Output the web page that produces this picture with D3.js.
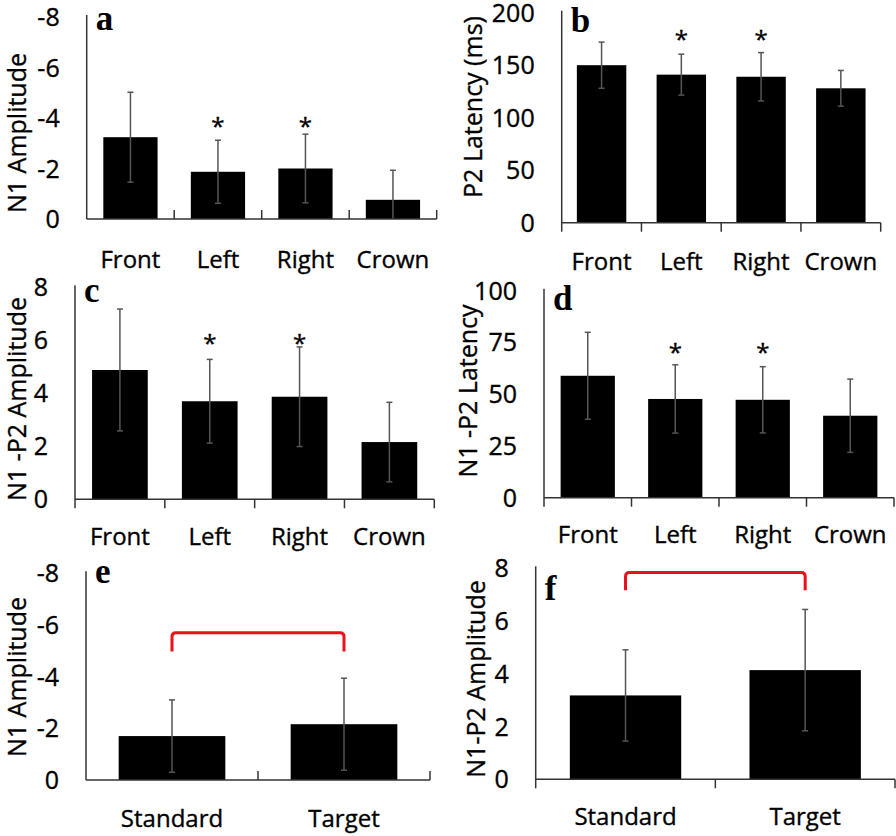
<!DOCTYPE html>
<html><head><meta charset="utf-8">
<script src="https://cdn.jsdelivr.net/npm/d3@7"></script>
<style>body{margin:0;background:#fff}svg{display:block}
text.s{stroke:#000;stroke-width:0.35px}</style>
</head><body>
<svg id="c" width="896" height="836"></svg>
<script>
// ---- data ----
const regions = ["Front", "Left", "Right", "Crown"];
const conditions = ["Standard", "Target"];

const n1AmpMean = [-3.24, -1.87, -2.0, -0.76];
const n1AmpSD   = [1.78, 1.25, 1.36, 1.17];
const n1AmpSig  = [false, true, true, false];
const n1AmpTicks = [0, -2, -4, -6, -8];

const p2LatMean = [150, 141, 139, 128];
const p2LatSD   = [22, 19.5, 23, 17];
const p2LatSig  = [false, true, true, false];
const p2LatTicks = [0, 50, 100, 150, 200];

const n1p2AmpMean = [4.88, 3.7, 3.87, 2.16];
const n1p2AmpSD   = [2.3, 1.58, 1.88, 1.5];
const n1p2AmpSig  = [false, true, true, false];
const n1p2AmpTicks = [0, 2, 4, 6, 8];

const n1p2LatMean = [58.9, 47.7, 47.3, 39.6];
const n1p2LatSD   = [21, 16.5, 16, 17.7];
const n1p2LatSig  = [false, true, true, false];
const n1p2LatTicks = [0, 25, 50, 75, 100];

const condN1Mean = [-1.7, -2.16];
const condN1SD   = [1.4, 1.78];
const condN1Ticks = [0, -2, -4, -6, -8];

const condN1P2Mean = [3.18, 4.14];
const condN1P2SD   = [1.73, 2.3];
const condN1P2Ticks = [0, 2, 4, 6, 8];

// ---- layout ----
const svg = d3.select("#c");
const sans = "'Open Sans', sans-serif";

function panel(o) {
  const g = svg.append("g");
  const y = d3.scaleLinear().domain([0, o.ticks[o.ticks.length - 1]]).range([o.y0, o.yTop]);
  const x = d3.scaleBand().domain(o.cats).range([o.x0, o.x1]).paddingInner(0.38).paddingOuter(0.19);
  const step = x.step();
  const sign = o.ticks[o.ticks.length - 1] < 0 ? -1 : 1;

  // bars
  g.selectAll("rect.bar").data(o.cats).join("rect")
    .attr("x", d => x(d)).attr("width", x.bandwidth())
    .attr("y", (d, i) => Math.min(y(o.mean[i]), y(0)))
    .attr("height", (d, i) => Math.abs(y(0) - y(o.mean[i])))
    .attr("fill", "#000");

  // error bars
  const eb = g.selectAll("g.eb").data(o.cats).join("g");
  const cx = d => x(d) + x.bandwidth() / 2;
  const hi = i => o.mean[i] + sign * o.sd[i];
  const lo = i => { const v = o.mean[i] - sign * o.sd[i]; return sign * v < 0 ? 0 : v; };
  eb.append("line").attr("x1", cx).attr("x2", cx)
    .attr("y1", (d, i) => y(hi(i))).attr("y2", (d, i) => y(lo(i)))
    .attr("stroke", "#555").attr("stroke-width", 1.5);
  [hi, lo].forEach(f => {
    eb.filter((d, i) => !(f === lo && lo(i) === 0)).append("line")
      .attr("x1", d => cx(d) - 3).attr("x2", d => cx(d) + 3)
      .attr("y1", d => y(f(o.cats.indexOf(d)))).attr("y2", d => y(f(o.cats.indexOf(d))))
      .attr("stroke", "#555").attr("stroke-width", 1.5);
  });

  // axes
  const axisCol = "#333";
  const tickDir = o.ticksUp ? -9 : 9;
  g.append("line").attr("x1", o.x0).attr("x2", o.x0)
    .attr("y1", y(o.ticks[o.ticks.length - 1]) - 2).attr("y2", o.ticksUp ? o.y0 : o.y0 + 9)
    .attr("stroke", axisCol).attr("stroke-width", 1.5);
  g.append("line").attr("x1", o.x0).attr("x2", o.x1).attr("y1", o.y0).attr("y2", o.y0)
    .attr("stroke", axisCol).attr("stroke-width", 1.5);
  d3.range(1, o.cats.length + 1).forEach(i => {
    const tx = o.x0 + i * step;
    g.append("line").attr("x1", tx).attr("x2", tx).attr("y1", o.y0).attr("y2", o.y0 + tickDir)
      .attr("stroke", axisCol).attr("stroke-width", 1.5);
  });

  // y tick labels
  g.selectAll("text.yt").data(o.ticks).join("text").attr("class", "s")
    .attr("x", o.x0 - 27).attr("y", d => y(d)).attr("dy", "0.36em")
    .attr("text-anchor", "end").attr("font-family", sans).attr("font-size", 25)
    .attr("fill", "#000").text(d => String(d));

  // x category labels
  g.selectAll("text.xt").data(o.cats).join("text").attr("class", "s")
    .attr("x", d => cx(d)).attr("y", o.catY)
    .attr("text-anchor", "middle").attr("font-family", sans).attr("font-size", 24)
    .attr("fill", "#000").text(d => d);

  // y title
  g.append("text").attr("class", "s").attr("transform", `translate(${o.titleX},${o.titleY}) rotate(-90)`)
    .attr("text-anchor", "middle").attr("dy", "0.36em")
    .attr("font-family", sans).attr("font-size", 25).attr("fill", "#000").text(o.title);

  // panel letter
  g.append("text").attr("x", o.x0 + 9).attr("y", o.letterY)
    .attr("font-family", "'Liberation Serif', 'Times New Roman', serif").attr("font-weight", "bold")
    .attr("font-size", 35).attr("fill", "#000").text(o.letter);

  // asterisks
  if (o.sig) {
    g.selectAll("text.sig").data(o.cats.filter((d, i) => o.sig[i])).join("text").attr("class", "s")
      .attr("x", cx).attr("y", y(o.starAt) + 13)
      .attr("text-anchor", "middle").attr("font-family", sans).attr("font-size", 24)
      .attr("fill", "#000").text("*");
  }

  // significance bracket
  if (o.bracket) {
    const [top, end] = o.bracket;
    const xa = cx(o.cats[0]), xb = cx(o.cats[1]), r = 4;
    const yt = y(top), ye = y(end);
    g.append("path")
      .attr("d", `M${xa},${ye} L${xa},${yt + r} Q${xa},${yt} ${xa + r},${yt} L${xb - r},${yt} Q${xb},${yt} ${xb},${yt + r} L${xb},${ye}`)
      .attr("fill", "none").attr("stroke", "#e8101a").attr("stroke-width", 3);
  }
}

panel({cats: regions, mean: n1AmpMean, sd: n1AmpSD, sig: n1AmpSig, ticks: n1AmpTicks, starAt: -3.85,
  x0: 86.7, x1: 436.7, y0: 219, yTop: 17, ticksUp: true, catY: 268,
  title: "N1 Amplitude", titleX: 17, titleY: 133, letter: "a", letterY: 30});
panel({cats: regions, mean: p2LatMean, sd: p2LatSD, sig: p2LatSig, ticks: p2LatTicks, starAt: 179,
  x0: 561.7, x1: 880.7, y0: 222.7, yTop: 12.7, ticksUp: false, catY: 270,
  title: "P2 Latency (ms)", titleX: 473, titleY: 107, letter: "b", letterY: 32});
panel({cats: regions, mean: n1p2AmpMean, sd: n1p2AmpSD, sig: n1p2AmpSig, ticks: n1p2AmpTicks, starAt: 6.05,
  x0: 75, x1: 434.3, y0: 499.3, yTop: 287.3, ticksUp: false, catY: 545,
  title: "N1 -P2 Amplitude", titleX: 17, titleY: 399, letter: "c", letterY: 302});
panel({cats: regions, mean: n1p2LatMean, sd: n1p2LatSD, sig: n1p2LatSig, ticks: n1p2LatTicks, starAt: 72.3,
  x0: 544, x1: 894, y0: 497.7, yTop: 290.7, ticksUp: false, catY: 543,
  title: "N1 -P2 Latency", titleX: 468, titleY: 391, letter: "d", letterY: 310});
panel({cats: conditions, mean: condN1Mean, sd: condN1SD, ticks: condN1Ticks, bracket: [-5.7, -4.97],
  x0: 86, x1: 430, y0: 780, yTop: 573.3, ticksUp: true, catY: 827,
  title: "N1 Amplitude", titleX: 17, titleY: 677, letter: "e", letterY: 583});
panel({cats: conditions, mean: condN1P2Mean, sd: condN1P2SD, ticks: condN1P2Ticks, bracket: [7.84, 7.17],
  x0: 535.7, x1: 895, y0: 779.3, yTop: 568.3, ticksUp: false, catY: 825,
  title: "N1-P2 Amplitude", titleX: 476, titleY: 679, letter: "f", letterY: 600});
</script>
</body></html>
